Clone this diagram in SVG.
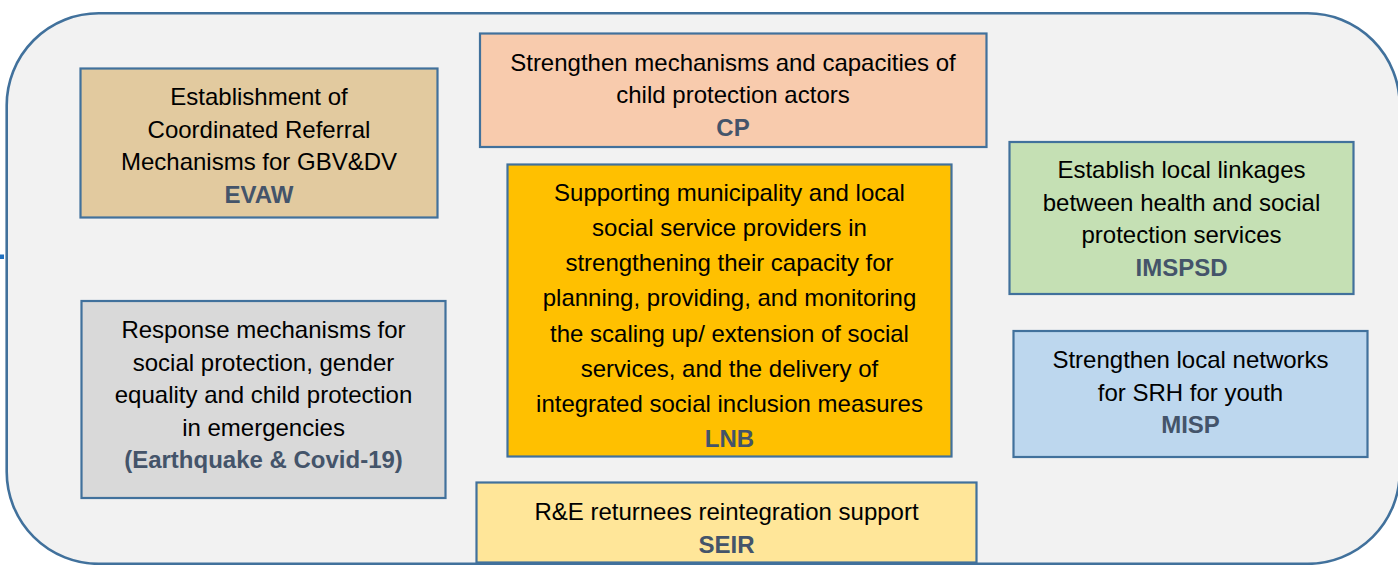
<svg xmlns="http://www.w3.org/2000/svg" width="1398" height="565" viewBox="0 0 1398 565">
<style>
.box{stroke:#41719C;stroke-width:2.2}
.t{font-family:"Liberation Sans",Arial,sans-serif;font-size:24px;fill:#000;text-anchor:middle}
.b{font-family:"Liberation Sans",Arial,sans-serif;font-size:24px;font-weight:bold;fill:#44546A;text-anchor:middle}
</style>
<rect width="1398" height="565" fill="#FFFFFF"/>
<g id="frame">
<rect x="6.7" y="13.3" width="1393" height="550.5" rx="92" ry="92" fill="#F2F2F2" stroke="#41719C" stroke-width="2.6"/>
<rect x="0" y="254.5" width="4" height="4.5" fill="#1F70C0"/>
</g>
<g id="connectors"></g>
<g id="evaw">
<rect class="box" x="80.5" y="68.5" width="357" height="149" fill="#E2CA9F"/>
<text class="t" x="259" y="105">Establishment of</text>
<text class="t" x="259" y="137.5">Coordinated Referral</text>
<text class="t" x="259" y="170">Mechanisms for GBV&amp;DV</text>
<text class="b" x="259" y="202.5">EVAW</text>
</g>
<g id="emergency">
<rect class="box" x="81.5" y="301" width="364" height="197" fill="#D9D9D9"/>
<text class="t" x="263.5" y="338">Response mechanisms for</text>
<text class="t" x="263.5" y="370.5">social protection, gender</text>
<text class="t" x="263.5" y="403">equality and child protection</text>
<text class="t" x="263.5" y="435.5">in emergencies</text>
<text class="b" x="263.5" y="468">(Earthquake &amp; Covid-19)</text>
</g>
<g id="cp">
<rect class="box" x="480" y="33.5" width="506.5" height="113.5" fill="#F8CBAD"/>
<text class="t" x="733" y="70.7">Strengthen mechanisms and capacities of</text>
<text class="t" x="733" y="102.8">child protection actors</text>
<text class="b" x="733" y="136">CP</text>
</g>
<g id="lnb">
<rect class="box" x="507.5" y="164.5" width="444" height="292" fill="#FFC000"/>
<text class="t" x="729.5" y="200.7">Supporting municipality and local</text>
<text class="t" x="729.5" y="235.9">social service providers in</text>
<text class="t" x="729.5" y="271.1">strengthening their capacity for</text>
<text class="t" x="729.5" y="306.3">planning, providing, and monitoring</text>
<text class="t" x="729.5" y="341.5">the scaling up/ extension of social</text>
<text class="t" x="729.5" y="376.7">services, and the delivery of</text>
<text class="t" x="729.5" y="411.9">integrated social inclusion measures</text>
<text class="b" x="729.5" y="446.6">LNB</text>
</g>
<g id="seir">
<rect class="box" x="476.5" y="482.5" width="500" height="80" fill="#FFE699"/>
<text class="t" x="726.5" y="520">R&amp;E returnees reintegration support</text>
<text class="b" x="726.5" y="553">SEIR</text>
</g>
<g id="imspsd">
<rect class="box" x="1009.5" y="142" width="344" height="152" fill="#C5E0B4"/>
<text class="t" x="1181.5" y="177.7">Establish local linkages</text>
<text class="t" x="1181.5" y="210.5">between health and social</text>
<text class="t" x="1181.5" y="243">protection services</text>
<text class="b" x="1181.5" y="276">IMSPSD</text>
</g>
<g id="misp">
<rect class="box" x="1013.5" y="331" width="354" height="126" fill="#BDD7EE"/>
<text class="t" x="1190.5" y="368">Strengthen local networks</text>
<text class="t" x="1190.5" y="400.5">for SRH for youth</text>
<text class="b" x="1190.5" y="433">MISP</text>
</g>
</svg>
